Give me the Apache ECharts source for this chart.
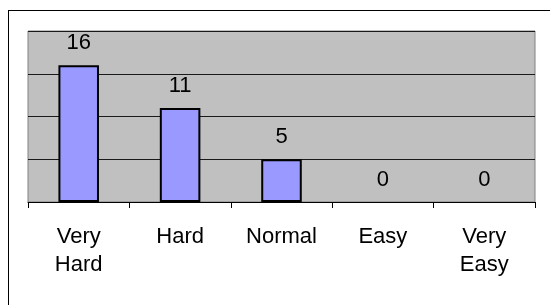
<!DOCTYPE html>
<html>
<head>
<meta charset="utf-8">
<script src="https://cdn.jsdelivr.net/npm/echarts@6/dist/echarts.min.js"></script>
<style>
  html, body { margin: 0; padding: 0; background: #fff; }
  #chart { width: 550px; height: 305px; }
</style>
</head>
<body>
<div id="chart"></div>
<script>
const categories = ["Very\nHard", "Hard", "Normal", "Easy", "Very\nEasy"];
const counts = [16, 11, 5, 0, 0];
const yMax = 20;
const yStep = 5;

let myChart = echarts.init(document.getElementById("chart"));
let option = {
    animation: false,
    textStyle: { fontFamily: "Liberation Sans, Arial, sans-serif" },
    // outer frame (top and left edges only are visible)
    graphic: [
        { type: "line", shape: { x1: 8, y1: 10.5, x2: 550, y2: 10.5 }, style: { stroke: "#000", lineWidth: 1 } },
        { type: "line", shape: { x1: 8.5, y1: 10, x2: 8.5, y2: 305 }, style: { stroke: "#000", lineWidth: 1 } }
    ],
    grid: {
        left: 28,
        top: 31,
        right: 15,
        bottom: 103,
        show: true,
        backgroundColor: "#c0c0c0",
        borderColor: "#808080",
        borderWidth: 1
    },
    xAxis: {
        type: "category",
        data: categories,
        axisLine: { lineStyle: { color: "#000", width: 1 } },
        axisTick: { show: true, length: 6, lineStyle: { color: "#000" } },
        axisLabel: {
            color: "#000",
            fontSize: 22,
            lineHeight: 28,
            margin: 21,
            interval: 0
        }
    },
    yAxis: {
        type: "value",
        min: 0,
        max: yMax,
        interval: yStep,
        axisLabel: { show: false },
        axisLine: { show: false },
        axisTick: { show: false },
        splitLine: { lineStyle: { color: "#1a1a1a", width: 1 } }
    },
    series: [
        {
            type: "bar",
            // empty bars get no outline, as in the original
            data: counts.map(v => ({
                value: v,
                itemStyle: v === 0 ? { borderWidth: 0 } : undefined
            })),
            barWidth: "40%",
            itemStyle: { color: "#9999ff", borderColor: "#000", borderWidth: 2 },
            label: {
                show: true,
                position: "top",
                distance: 11,
                color: "#000",
                fontSize: 22
            }
        }
    ]
};
myChart.setOption(option);
</script>
</body>
</html>
